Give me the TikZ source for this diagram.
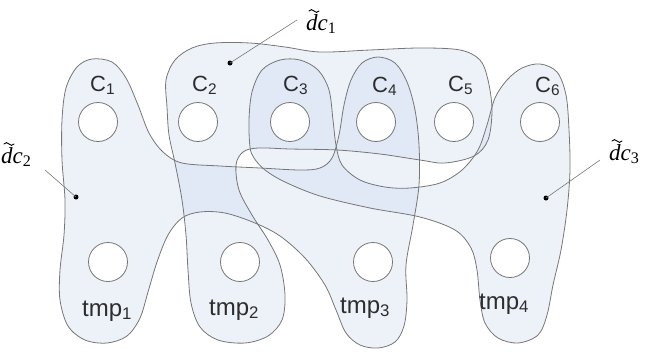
\documentclass[tikz,border=0pt]{standalone}
\usepackage{fontspec}
\setmainfont{Liberation Sans}
\newfontfamily\dcfont{Liberation Serif}
\definecolor{linegray}{RGB}{118,118,118}
\definecolor{blobfill}{RGB}{190,208,235}
\definecolor{textgray}{RGB}{45,45,45}
\begin{document}
\begin{tikzpicture}[x=1pt,y=-1pt,
  outline/.style={draw=linegray, line width=0.8pt},
  shade/.style={fill=blobfill, fill opacity=0.28},
  hole/.style={circle, draw=linegray, line width=0.8pt, fill=white, minimum size=39pt, inner sep=0pt},
  clab/.style={font=\fontsize{22}{24}\selectfont, text=textgray, inner sep=0pt, anchor=base west},
  tlab/.style={font=\fontsize{24}{26}\selectfont, text=textgray, inner sep=0pt, anchor=base west},
  dlab/.style={font=\dcfont\fontsize{23}{25}\selectfont, inner sep=0pt, anchor=base west},
  tildemark/.style={line width=0.9pt, line cap=round},
  dot/.style={circle, fill=black, inner sep=0pt, minimum size=5pt},
  leader/.style={draw=linegray, line width=0.6pt}]
\useasboundingbox (0,0) rectangle (652,351);

% cluster outlines
\path[save path=\dcone] plot[smooth cycle, tension=0.55] coordinates {
  (167,107) (166,80) (175,60) (192,48) (215,43) (250,43) (285,47) (320,52)
  (370,50) (420,48) (460,50) (480,60) (488,80) (492,110) (488,140) (474,156)
  (445,163) (420,160) (380,154) (337,150) (290,149) (258,148) (243,152)
  (236,165) (239,190) (252,215) (268,240) (280,265) (285,295) (282,320)
  (268,336) (245,343) (218,340) (200,327) (191,303) (188,270) (186,235)
  (182,200) (175,163) (169,135)};
\path[save path=\dctwo] plot[smooth cycle, tension=0.55] coordinates {
  (92,59) (112,62) (126,78) (138,105) (149,133) (163,152) (182,163) (220,166)
  (260,168) (300,170) (320,168) (332,158) (339,135) (344,105) (351,80)
  (362,63) (378,57) (395,63) (407,82) (415,110) (419,145) (419,185) (413,225)
  (406,265) (407,300) (404,326) (395,342) (378,348) (360,345) (346,333)
  (336,310) (325,285) (305,258) (280,236) (255,223) (225,213) (200,212)
  (182,218) (168,235) (157,262) (148,292) (140,318) (127,336) (107,343)
  (85,340) (68,326) (60,300) (60,270) (64,235) (65,200) (62,160) (62,120)
  (66,88) (77,67)};
\path[save path=\dcthree] plot[smooth cycle, tension=0.55] coordinates {
  (250,147) (249,120) (252,92) (262,70) (280,60) (300,60) (318,70) (329,90)
  (333,120) (336,145) (342,165) (360,180) (385,187) (410,188) (440,183)
  (462,170) (478,150) (487,125) (495,98) (507,80) (522,68) (540,64) (557,72)
  (566,95) (569,130) (570,170) (567,210) (561,250) (553,285) (547,315)
  (538,335) (518,343) (498,338) (485,323) (480,300) (477,270) (471,248)
  (455,230) (420,217) (370,208) (320,196) (285,182) (265,170) (254,158)};

\path[shade, use path=\dcone];
\path[shade, use path=\dctwo];
\path[shade, use path=\dcthree];
\path[outline, use path=\dcone];
\path[outline, use path=\dctwo];
\path[outline, use path=\dcthree];

% elements
\node[hole] (c1) at (98,122) {};
\node[hole] (c2) at (198,122) {};
\node[hole] (c3) at (290,122) {};
\node[hole] (c4) at (376,122) {};
\node[hole] (c5) at (454,122) {};
\node[hole] (c6) at (540,122) {};
\node[hole] (t1) at (108,262) {};
\node[hole] (t2) at (240,262) {};
\node[hole] (t3) at (373,262) {};
\node[hole] (t4) at (510,258) {};

\node[clab] (lc1) at (90,91) {C\textsubscript{1}};
\node[clab] (lc2) at (192,91) {C\textsubscript{2}};
\node[clab] (lc3) at (283,91) {C\textsubscript{3}};
\node[clab] (lc4) at (372,92) {C\textsubscript{4}};
\node[clab] (lc5) at (448,91) {C\textsubscript{5}};
\node[clab] (lc6) at (535,92) {C\textsubscript{6}};

\node[tlab] (lt1) at (82,316) {tmp\textsubscript{1}};
\node[tlab] (lt2) at (209,315) {tmp\textsubscript{2}};
\node[tlab] (lt3) at (340,313) {tmp\textsubscript{3}};
\node[tlab] (lt4) at (479,309) {tmp\textsubscript{4}};

% cluster names with leaders
\node[dot] (p1) at (230,63) {};
\node[dot] (p2) at (76,197) {};
\node[dot] (p3) at (546,198) {};
\coordinate (e1) at (297,20);
\coordinate (e2) at (45,170);
\coordinate (e3) at (600,160);
\node[dlab] (d1) at (306,30) {\itshape dc\textsubscript{\upshape 1}};
\node[dlab] (d2) at (1,163) {\itshape dc\textsubscript{\upshape 2}};
\node[dlab] (d3) at (609,160) {\itshape dc\textsubscript{\upshape 3}};
% tilde accents over the d
\foreach \n in {d1,d2,d3}
  \draw[tildemark] ([shift={(3,-19)}]\n.base west)
    sin +(2.5,-1.4) cos +(2.5,1.4) sin +(2.5,1.4) cos +(2.5,-1.4);
\draw[leader] (p1.center) -- (e1);
\draw[leader] (p2.center) -- (e2);
\draw[leader] (p3.center) -- (e3);
\end{tikzpicture}
\end{document}
